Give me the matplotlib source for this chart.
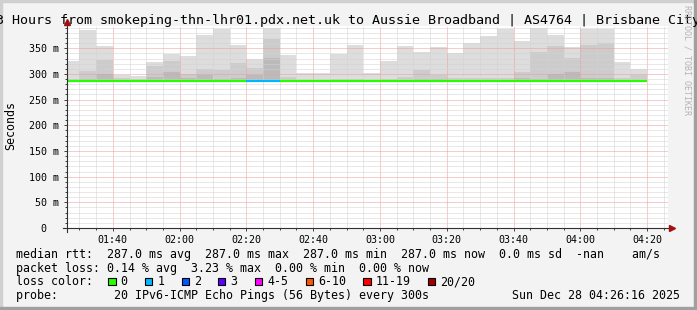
import matplotlib
matplotlib.use("Agg")
import matplotlib.pyplot as plt
from matplotlib.ticker import MultipleLocator, FuncFormatter
from matplotlib.patches import Rectangle

W, H = 697, 310
MONO = "DejaVu Sans Mono"

TITLE = "3 Hours from smokeping-thn-lhr01.pdx.net.uk to Aussie Broadband | AS4764 | Brisbane City"

# rrd 5 minute steps (start of each step)
bins = ["01:25", "01:30", "01:35", "01:40", "01:45", "01:50", "01:55",
        "02:00", "02:05", "02:10", "02:15", "02:20", "02:25", "02:30",
        "02:35", "02:40", "02:45", "02:50", "02:55", "03:00", "03:05",
        "03:10", "03:15", "03:20", "03:25", "03:30", "03:35", "03:40",
        "03:45", "03:50", "03:55", "04:00", "04:05", "04:10", "04:15"]

# median rtt in ms
median_ms = [287.0, 287.0, 287.0, 287.0, 287.0, 287.0, 287.0,
             287.0, 287.0, 287.0, 287.0, 287.0, 287.0, 287.0,
             287.0, 287.0, 287.0, 287.0, 287.0, 287.0, 287.0,
             287.0, 287.0, 287.0, 287.0, 287.0, 287.0, 287.0,
             287.0, 287.0, 287.0, 287.0, 287.0, 287.0, 287.0]

# lost pings per step (out of 20)
loss = [0, 0, 0, 0, 0, 0, 0,
        0, 0, 0, 0, 1, 1, 0,
        0, 0, 0, 0, 0, 0, 0,
        0, 0, 0, 0, 0, 0, 0,
        0, 0, 0, 0, 0, 0, 0]

# smoke: outer / middle / inner band tops (ms)
smoke_hi = [325, 385, 354, 298, 296, 323, 338, 335, 375, 387, 356, 330,
            390, 336, 302, 302, 338, 356, 301, 325, 354, 343, 352, 340,
            360, 374, 388, 364, 389, 376, 352, 388, 388, 323, 310]
smoke_mid = [290, 306, 327, 293, 291, 315, 325, 300, 310, 307, 321, 311,
             368, 294, 289, 289, 291, 291, 289, 290, 294, 307, 298, 292,
             292, 293, 292, 304, 343, 354, 331, 356, 360, 292, 297]
smoke_lo = [288, 290, 300, 289, 289, 294, 304, 292, 298, 291, 292, 298,
            331, 289, 288, 288, 288, 288, 288, 288, 289, 291, 290, 289,
            289, 289, 289, 292, 291, 300, 303, 292, 292, 289, 289]

loss_labels = ["0", "1", "2", "3", "4-5", "6-10", "11-19", "20/20"]
loss_colors = ["#26ff00", "#00b8ff", "#0059ff", "#5e00ff",
               "#ff00ff", "#ff5500", "#ff0000", "#a10000"]

legend_rtt = "median rtt:  287.0 ms avg  287.0 ms max  287.0 ms min  287.0 ms now  0.0 ms sd  -nan    am/s"
legend_loss = "packet loss: 0.14 % avg  3.23 % max  0.00 % min  0.00 % now"
legend_probe = "probe:        20 IPv6-ICMP Echo Pings (56 Bytes) every 300s"
stamp = "Sun Dec 28 04:26:16 2025"


def to_min(s):
    h, m = s.split(":")
    return int(h) * 60 + int(m)


def px(x, y):
    # pixel (from top-left) -> figure fraction
    return x / W, 1 - y / H


starts = [to_min(b) for b in bins]
t_end = to_min("04:26") + 16 / 60.0

fig = plt.figure(figsize=(W / 100, H / 100), dpi=100, facecolor="#f3f3f3")

# 3d-ish frame
fig.patches.append(Rectangle((0, 0), 2 / W, 1, transform=fig.transFigure, color="#d0d0d0", zorder=0))
fig.patches.append(Rectangle((0, 1 - 2 / H), 1, 2 / H, transform=fig.transFigure, color="#d0d0d0", zorder=0))
fig.patches.append(Rectangle((1 - 3 / W, 0), 3 / W, 1, transform=fig.transFigure, color="#a0a0a0", zorder=0))
fig.patches.append(Rectangle((0, 0), 1, 3 / H, transform=fig.transFigure, color="#a0a0a0", zorder=0))

ax = fig.add_axes([67 / W, (H - 228) / H, (668 - 67) / W, (228 - 26) / H])
ax.set_facecolor("white")
ax.set_xlim(starts[0] + 1 + 16 / 60.0, t_end)
ax.set_ylim(0, 393.4)

hi = [h - m for h, m in zip(smoke_hi, median_ms)]
mid = [h - m for h, m in zip(smoke_mid, median_ms)]
lo = [h - m for h, m in zip(smoke_lo, median_ms)]
ax.bar(starts, hi, bottom=median_ms, width=5, align="edge", color="#dddddd", linewidth=0, zorder=1)
ax.bar(starts, mid, bottom=median_ms, width=5, align="edge", color="#cccccc", linewidth=0, zorder=1.1)
ax.bar(starts, lo, bottom=median_ms, width=5, align="edge", color="#bbbbbb", linewidth=0, zorder=1.2)


def loss_color(n):
    if n == 0:
        return loss_colors[0]
    if n <= 3:
        return loss_colors[n]
    if n <= 5:
        return loss_colors[4]
    if n <= 10:
        return loss_colors[5]
    if n <= 19:
        return loss_colors[6]
    return loss_colors[7]


ax.hlines(median_ms, starts, [s + 5 for s in starts], colors=[loss_color(n) for n in loss],
          linewidth=1.6, zorder=3)

# grid
ax.xaxis.set_major_locator(MultipleLocator(20))
ax.xaxis.set_minor_locator(MultipleLocator(5))
ax.yaxis.set_major_locator(MultipleLocator(50))
ax.yaxis.set_minor_locator(MultipleLocator(10))
ax.set_axisbelow("line")
ax.grid(which="minor", color="#d2d2d2", linestyle=(0, (1, 1)), linewidth=0.72)
ax.grid(which="major", color="#f09a9a", linestyle=(0, (1, 1)), linewidth=0.72)

ax.xaxis.set_major_formatter(FuncFormatter(lambda v, p: "%02d:%02d" % (int(v) // 60, int(v) % 60)))
ax.yaxis.set_major_formatter(FuncFormatter(lambda v, p: "%d m" % v if v > 0 else "0  "))

for s in ax.spines.values():
    s.set_visible(False)
ax.tick_params(which="both", direction="out", color="#404040", width=0.7)
ax.tick_params(which="major", length=2, labelsize=7.2)
ax.tick_params(which="minor", length=1.5)
ax.tick_params(axis="x", pad=3.0)
ax.tick_params(axis="y", pad=3.8)
for lab in ax.get_xticklabels() + ax.get_yticklabels():
    lab.set_family(MONO)

# axis lines with arrows
ax.plot([0, 0], [-4 / 202, 1.01], transform=ax.transAxes, color="#303030", lw=0.8, clip_on=False, zorder=4)
ax.plot([-4 / 601, 1.004], [0, 0], transform=ax.transAxes, color="#303030", lw=0.8, clip_on=False, zorder=4)
ax.plot([0], [1.02], marker="^", ms=4, color="#a01010", transform=ax.transAxes, clip_on=False, zorder=5)
ax.plot([1.006], [0], marker=">", ms=4, color="#a01010", transform=ax.transAxes, clip_on=False, zorder=5)

# texts
fig.text(*px(-3.8, 24), TITLE, ha="left", va="baseline", family=MONO, fontsize=9.6)
fig.text(*px(11, 126), "Seconds", rotation=90, ha="center", va="center", family=MONO, fontsize=8.4)
fig.text(*px(687.5, 60), "RRDTOOL / TOBI OETIKER", rotation=270, ha="center", va="center",
         family=MONO, fontsize=6, color="#b4b4b4")

rows_y = [254.3, 268.3, 281.7, 295.7]
fig.text(*px(16, rows_y[0]), legend_rtt, ha="left", va="center", family=MONO, fontsize=8.4)
fig.text(*px(16, rows_y[1]), legend_loss, ha="left", va="center", family=MONO, fontsize=8.4)
fig.text(*px(16, rows_y[2]), "loss color:", ha="left", va="center", family=MONO, fontsize=8.4)
fig.text(*px(16, rows_y[3]), legend_probe, ha="left", va="center", family=MONO, fontsize=8.4)
fig.text(*px(680, rows_y[3]), stamp, ha="right", va="center", family=MONO, fontsize=8.4)

cw = 7.03
bx = 108.3
for lab, col in zip(loss_labels, loss_colors):
    x0, y0 = px(bx, rows_y[2] + 3.7)
    fig.patches.append(Rectangle((x0, y0), 7.3 / W, 7.3 / H, transform=fig.transFigure,
                                 facecolor=col, edgecolor="black", linewidth=0.8, zorder=3))
    fig.text(*px(bx + 12.3, rows_y[2]), lab, ha="left", va="center", family=MONO, fontsize=8.4)
    bx += 12.3 + len(lab) * cw + 17.3

fig.savefig("out.png", dpi=100, facecolor=fig.get_facecolor())
